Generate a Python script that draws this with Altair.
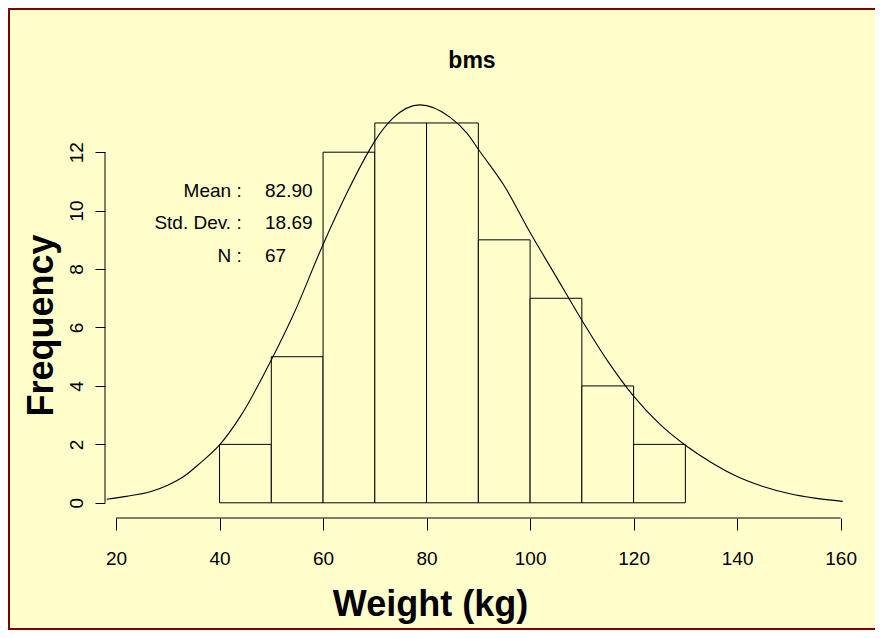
import altair as alt
import pandas as pd

# ---- data ----
bin_start = [40, 50, 60, 70, 80, 90, 100, 110, 120]
bin_end = [50, 60, 70, 80, 90, 100, 110, 120, 130]
counts = [2, 5, 12, 13, 13, 9, 7, 4, 2]

curve_x = [18.2, 22, 26.6, 30, 33.0, 36.2, 40, 44, 49.9, 54.3, 59.9, 64.6, 68.4, 70, 73.6,
           78.7, 84.5, 87.8, 90.2, 95, 100, 105, 110, 115, 120, 125, 130, 135, 140,
           145, 150, 155, 160.4]
curve_y = [0.12, 0.22, 0.38, 0.6, 0.89, 1.35, 1.98, 2.95, 4.85, 6.45, 8.8, 10.6, 11.9, 12.38, 13.18,
           13.62, 13.2, 12.65, 12.05, 10.85, 9.25, 7.75, 6.25, 4.85, 3.65, 2.7, 1.97, 1.38, 0.9,
           0.56, 0.32, 0.16, 0.05]

x_ticks = [20, 40, 60, 80, 100, 120, 140, 160]
y_ticks = [0, 2, 4, 6, 8, 10, 12]

stat_labels = ["Mean :", "Std. Dev. :", "N :"]
stat_values = ["82.90", "18.69", "67"]

title_text = "bms"
x_title = "Weight (kg)"
y_title = "Frequency"

# ---- layout / style ----
FONT = "Liberation Sans"
W, H = 746, 426
PAD_L, PAD_T, PAD_R, PAD_B = 97, 84, 24, 112
YELLOW = "#FFFFCC"
DARKRED = "#800000"

xs = alt.Scale(domain=[17.87, 162], nice=False, zero=False)
ys = alt.Scale(domain=[-0.52, 14.06], nice=False, zero=False)

xaxis = alt.Axis(
    values=x_ticks, domain=False, grid=False, tickSize=12, tickColor="black", tickWidth=1,
    labelFont=FONT, labelFontSize=19, labelColor="black", labelPadding=19,
    title=x_title, titleFont=FONT, titleFontSize=36, titleFontWeight="bold", titleColor="black",
    titleX=325, titleY=97, titleAlign="center", titleBaseline="alphabetic", zindex=2)
yaxis = alt.Axis(
    values=y_ticks, domain=False, grid=False, tickSize=10, tickColor="black", tickWidth=1,
    labelFont=FONT, labelFontSize=19, labelColor="black", labelPadding=9,
    labelAngle=270, labelAlign="center", labelBaseline="bottom",
    title=y_title, titleFont=FONT, titleFontSize=36, titleFontWeight="bold", titleColor="black",
    titleAngle=270, titleX=-53, titleY=233, titleAlign="center", titleBaseline="alphabetic",
    zindex=2)

hist_df = pd.DataFrame({"x1": bin_start, "x2": bin_end, "count": counts})
curve_df = pd.DataFrame({"x1": curve_x, "count": curve_y})
one = pd.DataFrame({"a": [0]})
xline_df = pd.DataFrame({"x1": [x_ticks[0]], "x2": [x_ticks[-1]]})
yline_df = pd.DataFrame({"count": [y_ticks[0]], "c2": [y_ticks[-1]]})

TOT_W = W + PAD_L + PAD_R
TOT_H = H + PAD_T + PAD_B
# dark red frame strips (top, left, bottom)
frame = [
    alt.Chart(one).mark_rect(fill=DARKRED).encode(
        x=alt.value(-PAD_L), x2=alt.value(TOT_W - PAD_L), y=alt.value(-PAD_T), y2=alt.value(2 - PAD_T)),
    alt.Chart(one).mark_rect(fill=DARKRED).encode(
        x=alt.value(-PAD_L), x2=alt.value(2 - PAD_L), y=alt.value(-PAD_T), y2=alt.value(TOT_H - PAD_T)),
    alt.Chart(one).mark_rect(fill=DARKRED).encode(
        x=alt.value(-PAD_L), x2=alt.value(TOT_W - PAD_L), y=alt.value(TOT_H - PAD_T - 2),
        y2=alt.value(TOT_H - PAD_T)),
]

bars = alt.Chart(hist_df).mark_rect(fill=YELLOW, stroke="black", strokeWidth=1).encode(
    x=alt.X("x1:Q", scale=xs, axis=xaxis),
    x2="x2:Q",
    y=alt.Y("count:Q", scale=ys, axis=yaxis),
    y2=alt.datum(0),
)

curve = alt.Chart(curve_df).mark_line(color="black", strokeWidth=1.1, interpolate="monotone").encode(
    x=alt.X("x1:Q", scale=xs, axis=xaxis),
    y=alt.Y("count:Q", scale=ys, axis=yaxis),
)

xline = alt.Chart(xline_df).mark_rule(color="black", strokeWidth=1).encode(
    x=alt.X("x1:Q", scale=xs, axis=xaxis), x2="x2:Q", y=alt.value(H),
)
yline = alt.Chart(yline_df).mark_rule(color="black", strokeWidth=1).encode(
    y=alt.Y("count:Q", scale=ys, axis=yaxis), y2="c2:Q", x=alt.value(0),
)

title_df = pd.DataFrame({"t": [title_text]})
title = alt.Chart(title_df).mark_text(
    font=FONT, fontSize=23, fontWeight="bold", color="black", align="center",
    baseline="alphabetic").encode(text="t:N", x=alt.value(367), y=alt.value(-24))

layers = frame + [bars, curve, xline, yline, title]
row_base = [104.7, 137.3, 169.7]
for i in range(len(stat_labels)):
    df = pd.DataFrame({"lab": [stat_labels[i]], "val": [stat_values[i]]})
    layers.append(alt.Chart(df).mark_text(
        font=FONT, fontSize=19, color="black", align="right", baseline="alphabetic").encode(
        text="lab:N", x=alt.value(136.7), y=alt.value(row_base[i])))
    layers.append(alt.Chart(df).mark_text(
        font=FONT, fontSize=19, color="black", align="left", baseline="alphabetic").encode(
        text="val:N", x=alt.value(160), y=alt.value(row_base[i])))

chart = alt.layer(*layers).properties(
    width=W, height=H,
    autosize=alt.AutoSizeParams(type="none"),
    padding={"left": PAD_L, "top": PAD_T, "right": PAD_R, "bottom": PAD_B},
    background=YELLOW,
).configure_view(stroke=None)

chart.save("out.html", embed_options={"renderer": "svg", "actions": False})
